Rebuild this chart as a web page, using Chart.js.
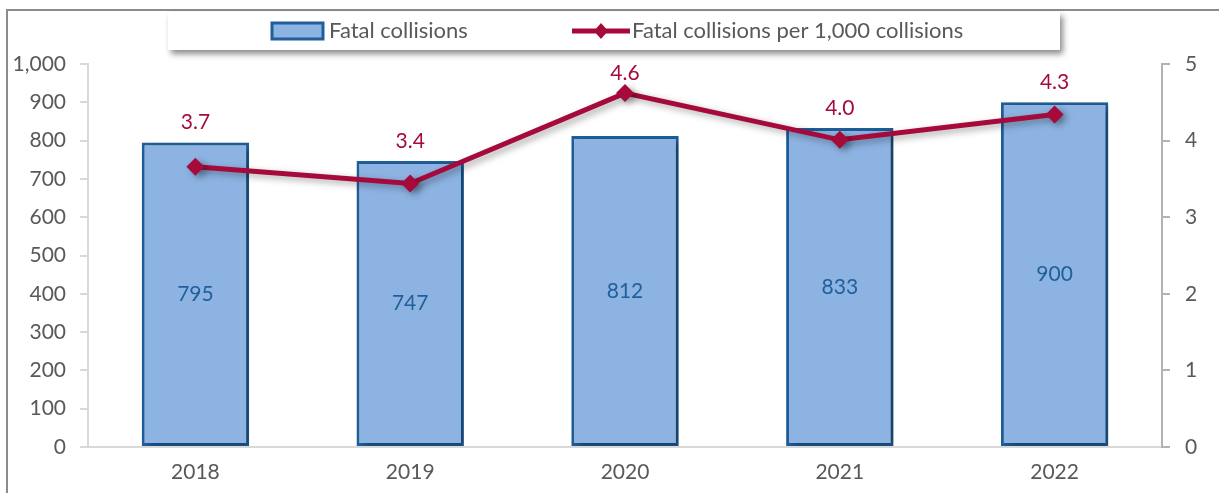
<!DOCTYPE html>
<html>
<head>
<meta charset="utf-8">
<script src="https://cdn.jsdelivr.net/npm/chart.js@4"></script>
<style>
  html, body { margin: 0; padding: 0; background: #fff; }
  #wrap { position: relative; width: 1219px; height: 493px; }
</style>
</head>
<body>
<div id="wrap"><canvas id="chart" width="1219" height="493"></canvas></div>
<script>
// ---- data ----
const years = ['2018', '2019', '2020', '2021', '2022'];
const fatalCollisions = [795, 747, 812, 833, 900];
const fatalPer1000 = [3.66, 3.44, 4.62, 4.01, 4.34];
const seriesNames = ['Fatal collisions', 'Fatal collisions per 1,000 collisions'];

const FONT = 'Lato, "Open Sans", sans-serif';
const BAR_FILL = '#8DB3E2';
const BAR_EDGE = '#1F5F9A';
const LINE_COL = '#A50A3A';
const TEXT_COL = '#595959';

// frame + legend box drawn by hand
const framePlugin = {
    id: 'frame',
    beforeDraw(chart) {
        const ctx = chart.ctx;
        ctx.save();
        ctx.strokeStyle = '#8C8C8C';
        ctx.lineWidth = 2;
        ctx.beginPath();
        ctx.moveTo(7, 493);
        ctx.lineTo(7, 10);
        ctx.lineTo(1219, 10);
        ctx.stroke();
        ctx.restore();
    },
    afterDraw(chart) {
        const ctx = chart.ctx;
        ctx.save();
        // legend panel
        ctx.shadowColor = 'rgba(0,0,0,0.45)';
        ctx.shadowBlur = 6;
        ctx.shadowOffsetX = 3;
        ctx.shadowOffsetY = 4;
        ctx.fillStyle = '#fff';
        ctx.fillRect(168, 12, 892, 38);
        ctx.shadowColor = 'transparent';

        // bar swatch
        ctx.fillStyle = BAR_FILL;
        ctx.fillRect(272, 23, 51, 16);
        ctx.strokeStyle = BAR_EDGE;
        ctx.lineWidth = 3;
        ctx.strokeRect(272, 23, 51, 16);

        // line swatch
        ctx.strokeStyle = LINE_COL;
        ctx.lineWidth = 5;
        ctx.beginPath();
        ctx.moveTo(572, 31);
        ctx.lineTo(630, 31);
        ctx.stroke();
        ctx.fillStyle = LINE_COL;
        ctx.beginPath();
        ctx.moveTo(601, 23); ctx.lineTo(608, 31); ctx.lineTo(601, 39); ctx.lineTo(594, 31);
        ctx.closePath();
        ctx.fill();

        ctx.fillStyle = TEXT_COL;
        ctx.font = '22px ' + FONT;
        ctx.textBaseline = 'middle';
        ctx.textAlign = 'left';
        ctx.fillText(seriesNames[0], 329, 31);
        ctx.fillText(seriesNames[1], 632, 31);
        ctx.restore();
    }
};

// soft shadow under bars and line
const shadowPlugin = {
    id: 'shadow',
    beforeDatasetDraw(chart) {
        const ctx = chart.ctx;
        ctx.save();
        ctx.shadowColor = 'rgba(0,0,0,0.35)';
        ctx.shadowBlur = 7;
        ctx.shadowOffsetX = 4;
        ctx.shadowOffsetY = 3;
    },
    afterDatasetDraw(chart) {
        chart.ctx.restore();
    }
};

// value labels
const labelPlugin = {
    id: 'valueLabels',
    afterDatasetsDraw(chart) {
        const ctx = chart.ctx;
        const bars = chart.getDatasetMeta(0).data;
        const pts = chart.getDatasetMeta(1).data;
        ctx.save();
        ctx.font = '21px ' + FONT;
        ctx.textAlign = 'center';
        ctx.textBaseline = 'middle';
        bars.forEach((b, i) => {
            ctx.fillStyle = BAR_EDGE;
            ctx.fillText(String(fatalCollisions[i]), b.x, (b.y + b.base) / 2);
        });
        pts.forEach((p, i) => {
            const top = Math.min(p.y, bars[i].y);
            ctx.fillStyle = LINE_COL;
            ctx.fillText(fatalPer1000[i].toFixed(1), p.x, top - 20);
        });
        ctx.restore();
    }
};

const tickFont = { family: FONT, size: 21 };

new Chart(document.getElementById('chart'), {
    data: {
        labels: years,
        datasets: [
            {
                type: 'bar',
                label: seriesNames[0],
                data: fatalCollisions,
                yAxisID: 'y',
                backgroundColor: BAR_FILL,
                borderColor: BAR_EDGE,
                borderWidth: 3,
                borderSkipped: false,
                barPercentage: 0.5,
                categoryPercentage: 1,
                order: 1
            },
            {
                type: 'line',
                label: seriesNames[1],
                data: fatalPer1000,
                yAxisID: 'y1',
                borderColor: LINE_COL,
                backgroundColor: LINE_COL,
                borderWidth: 5,
                pointStyle: 'rectRot',
                pointRadius: 9,
                pointBorderWidth: 0,
                tension: 0,
                order: 0
            }
        ]
    },
    options: {
        responsive: false,
        animation: false,
        layout: { padding: { top: 64, left: 0, right: 0, bottom: 0 } },
        plugins: {
            legend: { display: false },
            tooltip: { enabled: false }
        },
        scales: {
            x: {
                offset: true,
                grid: { display: false },
                border: { display: true, color: '#D9D9D9', width: 2 },
                ticks: { color: TEXT_COL, font: tickFont, padding: 5 },
                afterFit: s => { s.height = 46; }
            },
            y: {
                position: 'left',
                min: 0,
                max: 1000,
                ticks: { stepSize: 100, color: TEXT_COL, font: tickFont, padding: 14 },
                grid: { drawOnChartArea: false, tickLength: 8, color: '#D9D9D9', lineWidth: 2 },
                border: { color: '#D9D9D9', width: 2 },
                afterFit: s => { s.width = 88; }
            },
            y1: {
                position: 'right',
                min: 0,
                max: 5,
                ticks: { stepSize: 1, color: TEXT_COL, font: tickFont, padding: 15 },
                grid: { drawOnChartArea: false, tickLength: 8, color: '#B3B3B3', lineWidth: 2 },
                border: { color: '#B3B3B3', width: 2 },
                afterFit: s => { s.width = 57; }
            }
        }
    },
    plugins: [framePlugin, shadowPlugin, labelPlugin]
});
</script>
</body>
</html>
